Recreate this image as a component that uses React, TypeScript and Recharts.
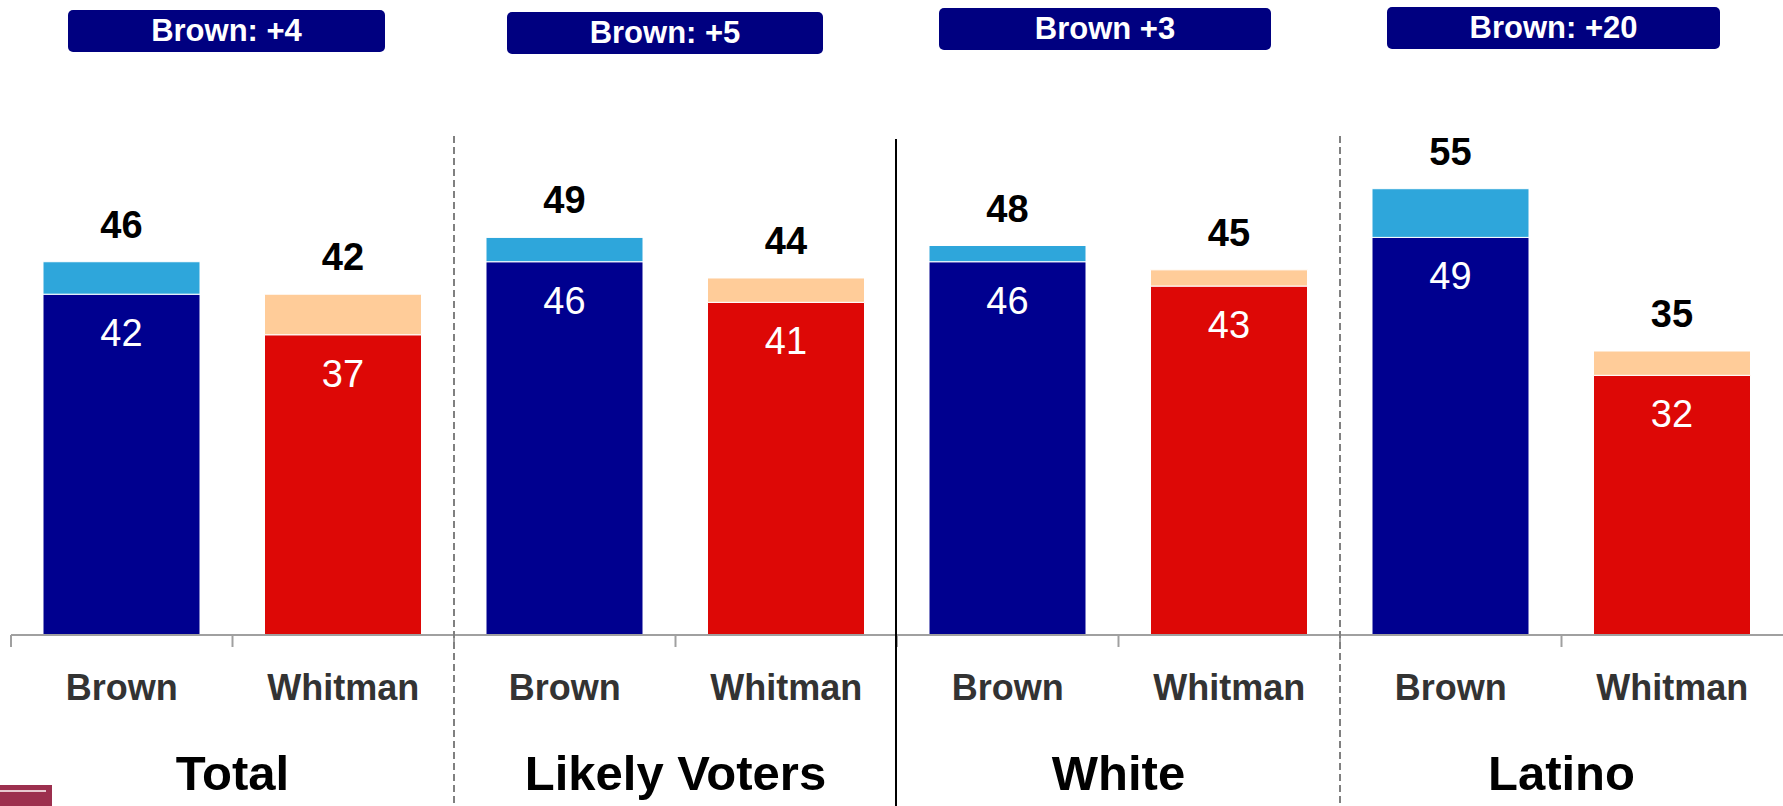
import { BarChart, Bar, XAxis, YAxis, Cell, LabelList } from 'recharts'

const candidates = ['Brown', 'Whitman', 'Brown', 'Whitman', 'Brown', 'Whitman', 'Brown', 'Whitman']
const baseVote = [42, 37, 46, 41, 46, 43, 49, 32]
const leanVote = [4, 5, 3, 3, 2, 2, 6, 3]
const groups = ['Total', 'Likely Voters', 'White', 'Latino']
const badges = ['Brown: +4', 'Brown: +5', 'Brown +3', 'Brown: +20']

const W = 1783
const H = 806
const M = { top: 67, right: 0, left: 11, bottom: 0 }
const AXIS_H = 171
const AXIS_Y = H - AXIS_H
const BAND = (W - M.left - M.right) / candidates.length
const FONT = '"Liberation Sans", Arial, sans-serif'

// badge boxes (left, top, width) as placed on the slide
const BADGE_BOX = [
  [68, 10, 317],
  [507, 12, 316],
  [939, 8, 332],
  [1387, 7, 333],
]

const COLORS = {
  brown: '#00008f',
  brownLean: '#2ea6db',
  whitman: '#dd0806',
  whitmanLean: '#ffcc99',
  badge: '#000080',
  axis: '#a0a0a0',
}

const data = candidates.map((name, i) => ({
  name,
  base: baseVote[i],
  lean: leanVote[i],
}))

function renderTotal(props: any) {
  const { x, y, width, index } = props
  const total = baseVote[index] + leanVote[index]
  return (
    <text x={x + width / 2} y={y - 24} textAnchor="middle" fontFamily={FONT}
      fontWeight="bold" fontSize={38} fill="#000">
      {total}
    </text>
  )
}

function renderInner(props: any) {
  const { x, y, width, value } = props
  return (
    <text x={x + width / 2} y={y + 52} textAnchor="middle" fontFamily={FONT}
      fontSize={38} fill="#fff">
      {value}
    </text>
  )
}

function CandidateTick(props: any) {
  const { x, payload, index } = props
  const left = x - BAND / 2
  const isGroupStart = index % 2 === 0
  const g = Math.floor(index / 2)
  const groupCenter = x + BAND / 2
  const [bx, by, bw] = BADGE_BOX[g]
  return (
    <g>
      <line x1={left} x2={left} y1={AXIS_Y} y2={AXIS_Y + 12} stroke={COLORS.axis} strokeWidth={2} />
      <text x={x} y={700} textAnchor="middle" fontFamily={FONT} fontWeight="bold"
        fontSize={36} fill="#333">
        {payload.value}
      </text>
      {isGroupStart && (
        <g>
          <text x={groupCenter} y={790} textAnchor="middle" fontFamily={FONT}
            fontWeight="bold" fontSize={49} fill="#000">
            {groups[g]}
          </text>
          <rect x={bx} y={by} width={bw} height={42} rx={5} fill={COLORS.badge} />
          <text x={bx + bw / 2} y={by + 31} textAnchor="middle" fontFamily={FONT}
            fontWeight="bold" fontSize={31} fill="#fff">
            {badges[g]}
          </text>
          {g === 2 && (
            <line x1={left - 1} x2={left - 1} y1={139} y2={H} stroke="#000" strokeWidth={2} />
          )}
          {g > 0 && g !== 2 && (
            <line x1={left} x2={left} y1={136} y2={H} stroke="#808080"
              strokeWidth={2} strokeDasharray="7 4" />
          )}
        </g>
      )}
    </g>
  )
}

export default function App() {
  return (
    <div style={{ position: 'absolute', left: 0, top: 0, width: W, height: H, background: '#fff' }}>
      <BarChart width={W} height={H} data={data} margin={M}>
        <XAxis
          dataKey="name"
          height={AXIS_H}
          interval={0}
          tickLine={false}
          axisLine={{ stroke: COLORS.axis, strokeWidth: 2 }}
          tick={<CandidateTick />}
        />
        <YAxis hide domain={[0, 70]} />
        <Bar dataKey="base" stackId="v" barSize={157} stroke="#fff" strokeWidth={1} isAnimationActive={false}>
          {data.map((d, i) => (
            <Cell key={`b-${i}`} fill={d.name === 'Brown' ? COLORS.brown : COLORS.whitman} />
          ))}
          <LabelList dataKey="base" content={renderInner} />
        </Bar>
        <Bar dataKey="lean" stackId="v" barSize={157} stroke="#fff" strokeWidth={1} isAnimationActive={false}>
          {data.map((d, i) => (
            <Cell key={`l-${i}`} fill={d.name === 'Brown' ? COLORS.brownLean : COLORS.whitmanLean} />
          ))}
          <LabelList dataKey="lean" content={renderTotal} />
        </Bar>
      </BarChart>
      <div style={{ position: 'absolute', left: 0, top: 785, width: 52, height: 21, background: '#9c2f4e' }}>
        <div style={{ position: 'absolute', left: 0, top: 5, width: 46, height: 2, background: '#e8c8d0' }} />
      </div>
    </div>
  )
}
